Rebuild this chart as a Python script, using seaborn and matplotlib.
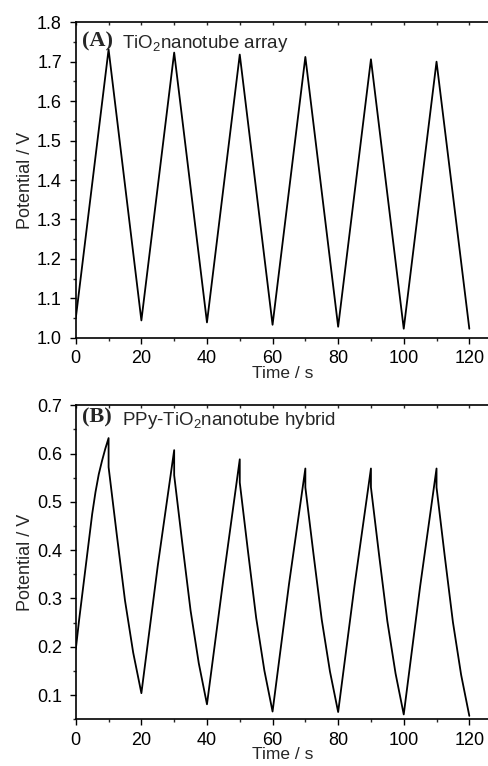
import numpy as np
import matplotlib
matplotlib.use('Agg')
import matplotlib.pyplot as plt
import seaborn as sns
import pandas as pd
from matplotlib.ticker import MultipleLocator, FormatStrFormatter

sns.set_style('ticks')
plt.rcParams['font.family'] = ['Liberation Sans', 'DejaVu Sans']
plt.rcParams['mathtext.fontset'] = 'custom'
plt.rcParams['mathtext.rm'] = 'Liberation Sans'

# (A) TiO2 nanotube array - charge/discharge
time_a = [0, 10, 20, 30, 40, 50, 60, 70, 80, 90, 100, 110, 120]
pot_a = [1.050, 1.731, 1.044, 1.723, 1.039, 1.718, 1.033, 1.712, 1.028, 1.706, 1.023, 1.700, 1.023]

# (B) PPy-TiO2 nanotube hybrid
time_b = [0, 1, 2, 3, 4, 5, 6, 7, 8, 9, 10, 10, 12.5, 15, 17.5, 20,
          25, 30, 30, 32.5, 35, 37.5, 40,
          45, 50, 50, 52.5, 55, 57.5, 60,
          65, 70, 70, 72.5, 75, 77.5, 80,
          85, 90, 90, 92.5, 95, 97.5, 100,
          105, 110, 110, 112.5, 115, 117.5, 120]
pot_b = [0.195, 0.255, 0.310, 0.365, 0.420, 0.475, 0.520, 0.557, 0.585, 0.610, 0.632, 0.572, 0.432, 0.296, 0.188, 0.104,
         0.368, 0.607, 0.555, 0.413, 0.275, 0.166, 0.081,
         0.340, 0.588, 0.540, 0.398, 0.260, 0.151, 0.066,
         0.329, 0.569, 0.530, 0.391, 0.256, 0.149, 0.065,
         0.327, 0.569, 0.530, 0.389, 0.253, 0.145, 0.060,
         0.325, 0.569, 0.530, 0.388, 0.251, 0.142, 0.057]

df_a = pd.DataFrame({'t': time_a, 'v': pot_a})
df_b = pd.DataFrame({'t': time_b, 'v': pot_b})

fig = plt.figure(figsize=(4.89, 7.66), dpi=100)
ax1 = fig.add_axes([0.155, 0.559, 0.845, 0.412])
ax2 = fig.add_axes([0.155, 0.061, 0.845, 0.410])


def style(ax, ylo, yhi):
    ax.set_xlim(0, 126)
    ax.set_ylim(ylo, yhi)
    ax.xaxis.set_major_locator(MultipleLocator(20))
    ax.xaxis.set_minor_locator(MultipleLocator(10))
    ax.yaxis.set_major_locator(MultipleLocator(0.1))
    ax.yaxis.set_minor_locator(MultipleLocator(0.05))
    ax.yaxis.set_major_formatter(FormatStrFormatter('%.1f'))
    ax.spines['right'].set_visible(False)
    for s in ['left', 'bottom', 'top']:
        ax.spines[s].set_linewidth(1.2)
        ax.spines[s].set_color('black')
    ax.tick_params(axis='both', which='major', direction='out', length=4, width=1,
                   labelsize=13, colors='black', pad=5)
    ax.tick_params(axis='y', which='major', pad=6)
    ax.tick_params(axis='both', which='minor', direction='out', length=2.5, width=1)
    ax.tick_params(axis='x', which='both', top=False)
    ax.set_xlabel('Time / s', fontsize=12.5, labelpad=-1)
    ax.set_ylabel('Potential / V', fontsize=13, labelpad=2)
    # small inward ticks on the top frame
    sec = ax.secondary_xaxis('top')
    sec.set_xticks(np.arange(0, 121, 10))
    sec.tick_params(direction='in', length=2.5, width=1, labeltop=False)
    sec.spines['top'].set_visible(False)


sns.lineplot(data=df_a, x='t', y='v', ax=ax1, color='black', lw=1.3, sort=False, estimator=None)
sns.lineplot(data=df_b, x='t', y='v', ax=ax2, color='black', lw=1.3, sort=False, estimator=None)

style(ax1, 1.0, 1.8)
style(ax2, 0.05, 0.7)

ax1.text(0.015, 0.972, '(A)', transform=ax1.transAxes, fontsize=16, fontweight='bold',
         family='Liberation Serif', va='top', ha='left')
ax1.text(0.112, 0.965, 'TiO$_\\mathregular{2}$nanotube array', transform=ax1.transAxes,
         fontsize=13.5, va='top', ha='left')
ax2.text(0.015, 0.992, '(B)', transform=ax2.transAxes, fontsize=16, fontweight='bold',
         family='Liberation Serif', va='top', ha='left')
ax2.text(0.112, 0.985, 'PPy-TiO$_\\mathregular{2}$nanotube hybrid', transform=ax2.transAxes,
         fontsize=13.5, va='top', ha='left')

fig.savefig('out.png', dpi=100)
